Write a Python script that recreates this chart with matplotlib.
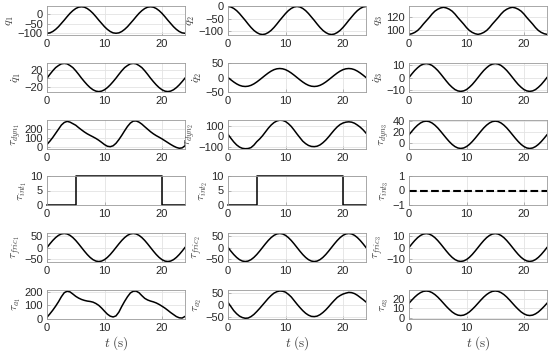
# joint trajectories and torque components for the 3 joints
import numpy as np
import matplotlib.pyplot as plt

plt.rcParams['font.family'] = ['Liberation Sans', 'DejaVu Sans']
plt.rcParams['mathtext.fontset'] = 'cm'

t = np.arange(0, 24.5, 0.5)  # sample times (s)

# joint positions
q1 = [-100, -98, -91, -80, -66, -49, -32, -14, 3, 17, 28, 35, 37, 35, 28, 17, 3, -14, -32, -49, -66, -80, -91, -98,
      -100, -98, -91, -80, -66, -49, -32, -14, 3, 17, 28, 35, 37, 35, 28, 17, 3, -14, -32, -49, -66, -80, -91, -98, -100]
q2 = [0, -2, -8, -17, -29, -43, -57, -72, -86, -98, -107, -113, -115, -113, -107, -98, -86, -72, -57, -43, -29, -17, -8, -2,
      0, -2, -8, -17, -29, -43, -57, -72, -86, -98, -107, -113, -115, -113, -107, -98, -86, -72, -57, -43, -29, -17, -8, -2, 0]
q3 = [93, 94, 96, 99, 103.5, 109, 114, 119, 124.5, 129, 132, 134, 135, 134, 132, 129, 124.5, 119, 114, 109, 103.5, 99, 96, 94,
      93, 94, 96, 99, 103.5, 109, 114, 119, 124.5, 129, 132, 134, 135, 134, 132, 129, 124.5, 119, 114, 109, 103.5, 99, 96, 94, 93]

# joint velocities
dq1 = [0, 9, 17.5, 25, 30, 34, 35, 34, 30, 25, 17.5, 9, 0, -8.3, -16, -22.6, -27.7, -30.9, -32, -30.9, -27.7, -22.6, -16, -8.3,
       0, 9, 17.5, 25, 30, 34, 35, 34, 30, 25, 17.5, 9, 0, -8.3, -16, -22.6, -27.7, -30.9, -32, -30.9, -27.7, -22.6, -16, -8.3, 0]
dq2 = [0, -8, -15.5, -22, -27, -30, -31, -30, -27, -22, -15.5, -8, 0, 8, 15.5, 22, 27, 30, 31, 30, 27, 22, 15.5, 8,
       0, -8, -15.5, -22, -27, -30, -31, -30, -27, -22, -15.5, -8, 0, 8, 15.5, 22, 27, 30, 31, 30, 27, 22, 15.5, 8, 0]
dq3 = [0, 3, 5.8, 8.1, 10, 11.1, 11.5, 11.1, 10, 8.1, 5.8, 3, 0, -3, -5.8, -8.1, -10, -11.1, -11.5, -11.1, -10, -8.1, -5.8, -3,
       0, 3, 5.8, 8.1, 10, 11.1, 11.5, 11.1, 10, 8.1, 5.8, 3, 0, -3, -5.8, -8.1, -10, -11.1, -11.5, -11.1, -10, -8.1, -5.8, -3, 0]

# dynamic torques
tdyn1 = [30, 65, 105, 150, 195, 240, 268, 280, 272, 255, 238, 212, 188, 165, 145, 128, 112, 95, 75, 52, 28, 10, 5, 15,
         42, 82, 128, 178, 225, 262, 283, 285, 272, 250, 222, 195, 168, 145, 125, 108, 90, 70, 50, 30, 12, -3, -12, -8, 15]
tdyn2 = [18, -18, -52, -80, -100, -112, -116, -114, -105, -82, -50, -25, 5, 40, 75, 105, 128, 143, 150, 148, 138, 118, 92, 58,
         22, -12, -45, -68, -85, -94, -96, -92, -80, -60, -35, -5, 28, 60, 88, 110, 124, 132, 135, 132, 122, 105, 85, 60, 30]
tdyn3 = [15.5, 21.8, 27.8, 32.8, 36.7, 39.2, 40, 39.2, 36.7, 32.8, 27.8, 21.8, 15.5, 9.2, 3.3, -1.8, -5.7, -8.2, -9, -8.2, -5.7, -1.8, 3.3, 9.2,
         15.5, 21.8, 27.8, 32.8, 36.7, 39.2, 40, 39.2, 36.7, 32.8, 27.8, 21.8, 15.5, 9.2, 3.3, -1.8, -5.7, -8.2, -9, -8.2, -5.7, -1.8, 3.3, 9.2, 15.5]

# interaction torques (step between 5 s and 20 s)
t_step = [0, 5, 5, 20, 20, 24]
tint1 = [0, 0, 10, 10, 0, 0]
tint2 = [0, 0, 10, 10, 0, 0]
tint3 = [0, 0, 0, 0, 0, 0]

# friction torques
tfric1 = [0, 15.5, 30, 42.4, 52, 58, 60, 58, 52, 42.4, 30, 15.5, 0, -15.5, -30, -42.4, -52, -58, -60, -58, -52, -42.4, -30, -15.5,
          0, 15.5, 30, 42.4, 52, 58, 60, 58, 52, 42.4, 30, 15.5, 0, -15.5, -30, -42.4, -52, -58, -60, -58, -52, -42.4, -30, -15.5, 0]
tfric2 = [0, -15.5, -30, -42.4, -52, -58, -60, -58, -52, -42.4, -30, -15.5, 0, 15.5, 30, 42.4, 52, 58, 60, 58, 52, 42.4, 30, 15.5,
          0, -15.5, -30, -42.4, -52, -58, -60, -58, -52, -42.4, -30, -15.5, 0, 15.5, 30, 42.4, 52, 58, 60, 58, 52, 42.4, 30, 15.5, 0]
tfric3 = [0, 3.1, 6, 8.5, 10.4, 11.6, 12, 11.6, 10.4, 8.5, 6, 3.1, 0, -3.1, -6, -8.5, -10.4, -11.6, -12, -11.6, -10.4, -8.5, -6, -3.1,
          0, 3.1, 6, 8.5, 10.4, 11.6, 12, 11.6, 10.4, 8.5, 6, 3.1, 0, -3.1, -6, -8.5, -10.4, -11.6, -12, -11.6, -10.4, -8.5, -6, -3.1, 0]

# actuator torques
ta1 = [10, 35, 62, 92, 125, 162, 192, 203, 198, 182, 165, 152, 142, 135, 130, 127, 122, 112, 98, 78, 55, 33, 18, 12,
       20, 48, 90, 128, 162, 190, 203, 204, 192, 170, 150, 138, 130, 124, 116, 105, 92, 78, 62, 45, 30, 15, 6, 4, 16]
ta2 = [12, -5, -22, -35, -45, -51, -54, -53, -47, -38, -26, -13, 1, 15, 29, 41, 51, 57, 60, 59, 55, 46, 35, 20,
       5, -9, -22, -33, -41, -46, -47, -45, -39, -30, -19, -6, 8, 21, 33, 41, 47, 51, 54, 53, 49, 42, 33, 24, 14]
ta3 = [15.3, 18.6, 21.7, 24.3, 26.3, 27.6, 28, 27.6, 26.3, 24.3, 21.7, 18.6, 15.3, 12, 9, 6.3, 4.3, 3, 2.6, 3, 4.3, 6.3, 9, 12,
       15.3, 18.6, 21.7, 24.3, 26.3, 27.6, 28, 27.6, 26.3, 24.3, 21.7, 18.6, 15.3, 12, 9, 6.3, 4.3, 3, 2.6, 3, 4.3, 6.3, 9, 12, 15.3]

# (x, y, ylabel, ylim, yticks) per row, per column
panels = [
    [(t, q1, r'$q_1$', (-109, 41), [-100, -50, 0]),
     (t, q2, r'$q_2$', (-117, 2), [-100, -50, 0]),
     (t, q3, r'$q_3$', (92, 137), [100, 120])],
    [(t, dq1, r'$\dot{q}_1$', (-33, 36), [-20, 0, 20]),
     (t, dq2, r'$\dot{q}_2$', (-50, 50), [-50, 0, 50]),
     (t, dq3, r'$\dot{q}_3$', (-12, 12), [-10, 0, 10])],
    [(t, tdyn1, r'$\tau_{dyn_1}$', (-20, 295), [0, 100, 200]),
     (t, tdyn2, r'$\tau_{dyn_2}$', (-118, 152), [-100, 0, 100]),
     (t, tdyn3, r'$\tau_{dyn_3}$', (-10, 42), [0, 20, 40])],
    [(t_step, tint1, r'$\tau_{int_1}$', (0, 10), [0, 5, 10]),
     (t_step, tint2, r'$\tau_{int_2}$', (0, 10), [0, 5, 10]),
     (t_step, tint3, r'$\tau_{int_3}$', (-1, 1), [-1, 0, 1])],
    [(t, tfric1, r'$\tau_{fric_1}$', (-62, 62), [-50, 0, 50]),
     (t, tfric2, r'$\tau_{fric_2}$', (-62, 62), [-50, 0, 50]),
     (t, tfric3, r'$\tau_{fric_3}$', (-12.5, 12.5), [-10, 0, 10])],
    [(t, ta1, r'$\tau_{a_1}$', (-3, 212), [0, 100, 200]),
     (t, ta2, r'$\tau_{a_2}$', (-57, 64), [-50, 0, 50]),
     (t, ta3, r'$\tau_{a_3}$', (-1, 29), [0, 10, 20])],
]

W, H = 550, 357
fig = plt.figure(figsize=(W / 100, H / 100), dpi=100)

col_left = [47, 228, 409]
row_top = [6, 63, 120, 176, 233, 290]
aw, ah = 138, 29

for r, row in enumerate(panels):
    for c, (x, y, lab, ylim, yt) in enumerate(row):
        ax = fig.add_axes([col_left[c] / W, (H - row_top[r] - ah) / H, aw / W, ah / H])
        ls = '--' if (r == 3 and c == 2) else '-'
        ax.plot(x, y, color='black', linestyle=ls, linewidth=1.1 if ls == '-' else 1.5,
                clip_on=(r != 3))
        ax.set_xlim(0, 24)
        ax.set_ylim(*ylim)
        ax.set_xticks([0, 10, 20])
        ax.set_yticks(yt)
        ax.grid(True, color='#e3e3e3', linewidth=0.6)
        ax.set_axisbelow(True)
        for s in ax.spines.values():
            s.set_color('#9a9a9a')
            s.set_linewidth(0.6)
        ax.tick_params(direction='in', length=2, width=0.5, color='#9a9a9a',
                       labelsize=8, labelcolor='#262626', pad=3)
        ax.set_ylabel(lab, fontsize=8.5, color='#404040', labelpad=1)
        if r == 5:
            ax.set_xlabel(r'$t\ \mathrm{(s)}$', fontsize=9.5, color='#404040', labelpad=1)

plt.savefig('out.png', dpi=100)
